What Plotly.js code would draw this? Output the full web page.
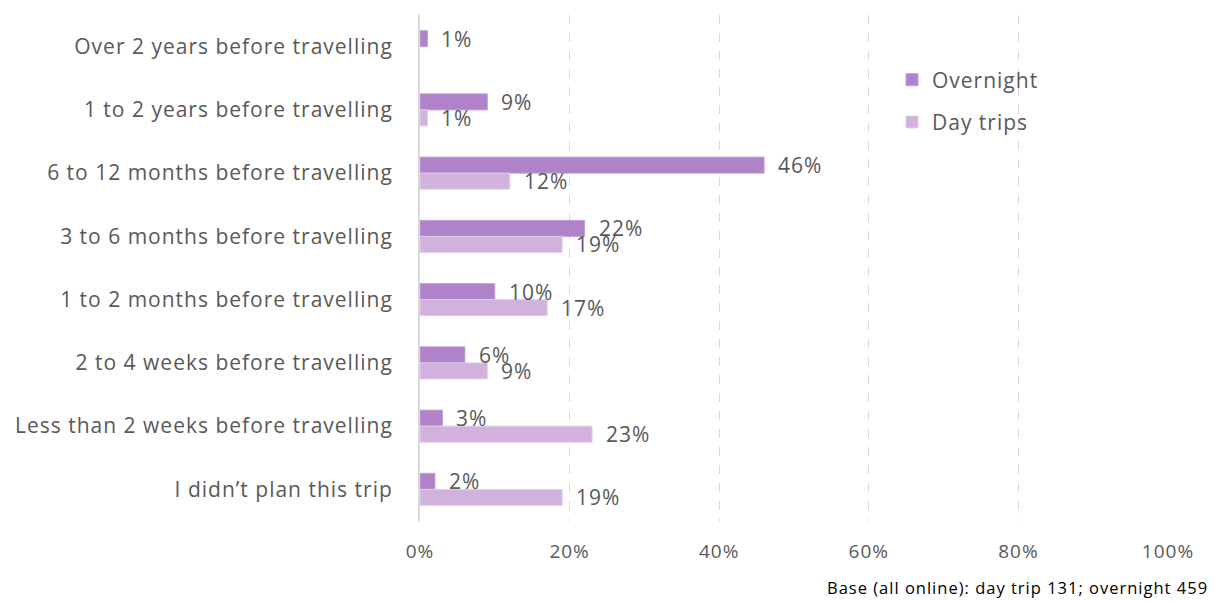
<!DOCTYPE html>
<html>
<head>
<meta charset="utf-8">
<script src="https://cdn.plot.ly/plotly-3.0.1.min.js"></script>
<style>
html,body{margin:0;padding:0;background:#fff;}
#chart{width:1215px;height:603px;}
svg text{letter-spacing:1px;}
</style>
</head>
<body>
<div id="chart"></div>
<script>
var categories = [
  "Over 2 years before travelling",
  "1 to 2 years before travelling",
  "6 to 12 months before travelling",
  "3 to 6 months before travelling",
  "1 to 2 months before travelling",
  "2 to 4 weeks before travelling",
  "Less than 2 weeks before travelling",
  "I didn\u2019t plan this trip"
];
var overnight = [1, 9, 46, 22, 10, 6, 3, 2];
var dayTrips = [null, 1, 12, 19, 17, 9, 23, 19];
var xTicks = [0, 20, 40, 60, 80, 100];
var xTickText = ["0%", "20%", "40%", "60%", "80%", "100%"];
var footnote = "Base (all online): day trip 131; overnight 459";

var FONT = "'Open Sans', 'Noto Sans', sans-serif";
var GREY = "#595959";

var traces = [
  {type: "bar", orientation: "h", name: "Overnight", y: categories, x: overnight,
   legendgroup: "a",
   marker: {color: "#AF82C9", line: {color: "#C3A1D6", width: 1}}, hoverinfo: "x+y"},
  {type: "bar", orientation: "h", name: "Day trips", y: categories, x: dayTrips,
   legendgroup: "b",
   marker: {color: "#D0B2DD", line: {color: "#E2CDEA", width: 1}}, hoverinfo: "x+y"}
];

var annotations = [];
function addLabels(vals, shift) {
  for (var i = 0; i < vals.length; i++) {
    if (vals[i] === null || vals[i] === undefined) continue;
    annotations.push({x: vals[i], y: categories[i], xref: "x", yref: "y",
      text: vals[i] + "%", showarrow: false, xanchor: "left", yanchor: "middle",
      xshift: 12, yshift: shift, font: {family: FONT, size: 21, color: GREY}});
  }
}
addLabels(overnight, 8);
addLabels(dayTrips, -8);
annotations.push({x: 1.056, y: -0.132, xref: "paper", yref: "paper", xanchor: "right",
  yanchor: "middle", showarrow: false, text: footnote,
  font: {family: FONT, size: 16.5, color: "#000000"}});

var layout = {
  width: 1215, height: 603,
  margin: {l: 420, r: 47, t: 15, b: 82},
  paper_bgcolor: "#ffffff", plot_bgcolor: "#ffffff",
  barmode: "group", bargap: 0.494, bargroupgap: 0,
  font: {family: FONT, size: 20, color: GREY},
  xaxis: {range: [0, 100], tickvals: xTicks, ticktext: xTickText, showgrid: true,
    gridcolor: "#D9D9D9", griddash: "dash", gridwidth: 1,
    zeroline: false, showline: false, ticks: "", ticklabelstandoff: 17,
    tickfont: {family: FONT, size: 19, color: GREY}, fixedrange: true},
  yaxis: {autorange: "reversed", showline: true, linecolor: "#D9D9D9", linewidth: 2,
    ticks: "", ticklabelstandoff: 21, showgrid: false, zeroline: false,
    tickfont: {family: FONT, size: 21, color: GREY}, fixedrange: true},
  legend: {x: 0.631, y: 0.912, xanchor: "left", yanchor: "top", traceorder: "grouped",
    tracegroupgap: 12, bgcolor: "rgba(0,0,0,0)",
    font: {family: FONT, size: 21, color: GREY}},
  annotations: annotations,
  showlegend: true
};

Plotly.newPlot("chart", traces, layout, {displayModeBar: false, staticPlot: true});
</script>
</body>
</html>
